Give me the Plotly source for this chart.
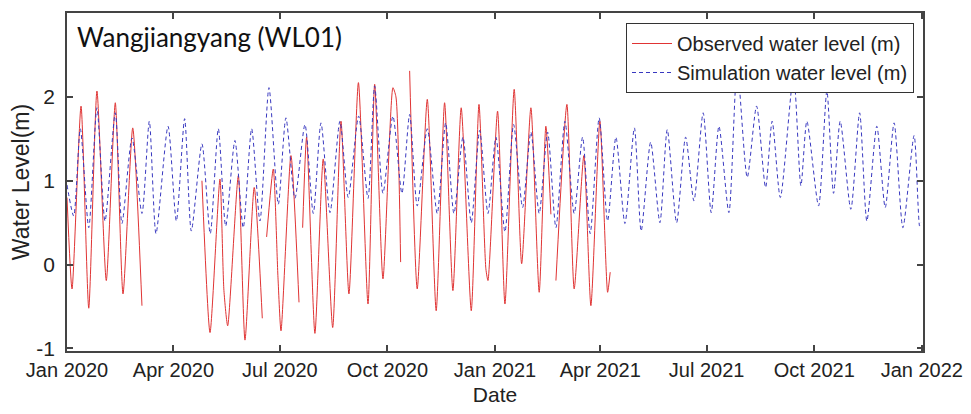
import pandas as pd
import plotly.graph_objects as go

# ---- data ----
# days after 2020-01-01, value (m)
sim_days = [0, 5.7, 11.4, 18.6, 25.6, 32.5, 41.3, 47.0, 55.6, 64.1, 70.4, 76.1, 86.4, 93.5,
            100.6, 106.3, 115.4, 122.5, 129.4, 135.7, 143.6, 150.7, 157.9, 165.0, 172.7,
            180.7, 187.2, 194.9, 203.5, 210.6, 217.2, 224.9, 233.4, 240.5, 249.4, 257.4,
            263.1, 270.2, 278.7, 286.4, 293.0, 299.5, 308.1, 316.6, 323.8, 330.9, 338.6,
            345.7, 352.9, 360.0, 366.8, 374.5, 381.9, 389.6, 396.7, 403.8, 411.0, 418.1,
            425.8, 433.7, 440.9, 447.4, 455.1, 462.3, 469.4, 477.1, 485.2, 491.0, 499.1,
            507.0, 513.3, 521.3, 529.0, 536.1, 544.0, 550.9, 557.5, 566.0, 573.1, 581.7,
            589.7, 597.4, 603.0, 610.0, 621.3, 627.6, 632.7, 642.7, 649.8, 655.5, 661.2,
            670.3, 677.8, 684.0, 692.5, 699.7, 707.3, 714.8, 724.4, 729.1, 730.2]
sim_vals = [0.95, 0.58, 1.62, 0.44, 1.87, 0.52, 1.81, 0.49, 1.51, 0.61, 1.71, 0.37, 1.65, 0.52,
            1.74, 0.40, 1.44, 0.37, 1.62, 0.46, 1.48, 0.44, 1.62, 0.52, 2.11,
            0.72, 1.75, 0.79, 1.67, 0.61, 1.69, 0.62, 1.71, 0.80, 1.77, 0.79,
            2.13, 0.85, 1.77, 0.85, 1.79, 0.70, 1.62, 0.61, 1.69, 0.61, 1.52,
            0.50, 1.60, 0.61, 1.52, 0.39, 1.67, 0.68, 1.58, 0.61, 1.58, 0.44,
            1.71, 0.61, 1.52, 0.37, 1.75, 0.52, 1.52, 0.49, 1.63, 0.40, 1.46,
            0.50, 1.61, 0.50, 1.52, 0.76, 1.81, 0.62, 1.65, 0.62, 2.35, 1.04,
            1.89, 0.92, 1.71, 0.80, 2.25, 0.94, 1.71, 0.70, 2.07, 0.85, 1.71,
            0.66, 1.81, 0.52, 1.65, 0.68, 1.69, 0.44, 1.54, 0.46, 0.50]

obs_days = [0, 4.3, 12.0, 18.6, 25.6, 33.6, 41.3, 47.9, 56.2, 64.1, None,
            115.4, 122.3, 130.8, 134.2, 137.4, 146.5, 152.2, 160.1, 167.0, None,
            170.7, 176.4, 180.4, 183.0, 191.5, 198.4, None,
            201.5, 204.9, 212.0, 219.1, 227.2, 234.3, 241.1, 249.2, 257.4, 263.1,
            270.2, 278.7, 281.3, 285.3, None,
            293.0, 299.5, 308.1, 315.7, 322.9, 330.0, 337.1, 345.7, 352.3, 358.2,
            360.0, 368.2, 374.5, 382.4, 388.8, 396.7, 403.8, 409.5, 413.8, None,
            418.1, 427.5, 433.7, 442.0, 448.0, 455.7, 462.3, 464.5]
obs_vals = [0.80, -0.29, 1.89, -0.52, 2.07, -0.19, 1.93, -0.35, 1.63, -0.49, None,
            1.00, -0.81, 1.02, -0.31, -0.73, 1.06, -0.90, 0.92, -0.64, None,
            0.33, 1.14, -0.15, -0.79, 1.30, -0.45, None,
            0.44, 1.52, -0.82, 1.26, -0.75, 1.71, -0.35, 2.17, -0.47, 2.15,
            -0.17, 2.11, 2.00, 0.03, None,
            2.31, -0.29, 1.97, -0.55, 1.93, -0.31, 1.87, -0.55, 1.91, -0.05,
            -0.19, 1.83, -0.47, 2.09, 0.01, 1.87, -0.33, 1.65, 0.60, None,
            -0.19, 1.91, -0.29, 1.30, -0.49, 1.71, -0.33, -0.09]

tick_dates = ["2020-01-01", "2020-04-01", "2020-07-01", "2020-10-01", "2021-01-01",
              "2021-04-01", "2021-07-01", "2021-10-01", "2022-01-01"]
tick_labels = ["Jan 2020", "Apr 2020", "Jul 2020", "Oct 2020", "Jan 2021",
               "Apr 2021", "Jul 2021", "Oct 2021", "Jan 2022"]
y_ticks = [-1, 0, 1, 2]
y_tick_labels = ["-1", "0", "1", "2"]

start = pd.Timestamp("2020-01-01")


def to_dates(days):
    return [None if d is None else start + pd.to_timedelta(d, unit="D") for d in days]


fig = go.Figure()
fig.add_trace(go.Scatter(
    x=to_dates(obs_days), y=obs_vals, mode="lines", name="Observed water level (m)",
    line=dict(color="#e03434", width=1, shape="spline", smoothing=0.6),
    connectgaps=False))
fig.add_trace(go.Scatter(
    x=to_dates(sim_days), y=sim_vals, mode="lines", name="Simulation water level (m)",
    line=dict(color="#3838c0", width=1, dash="4px,3px", shape="spline", smoothing=0.7)))

axis_col = "#444444"
font_main = "Liberation Sans, Arial, sans-serif"

fig.update_layout(
    width=971, height=414,
    margin=dict(l=67, r=48, t=13, b=63, autoexpand=False),
    paper_bgcolor="white", plot_bgcolor="white",
    font=dict(family=font_main, size=20, color="#222222"),
    showlegend=True,
    legend=dict(
        x=1 - 9 / 856, y=1 - 10 / 338, xanchor="right", yanchor="top",
        bgcolor="white", bordercolor="#333333", borderwidth=1,
        font=dict(family=font_main, size=20, color="#222222"),
        tracegroupgap=0, itemwidth=40,
    ),
    annotations=[dict(
        text="Wangjiangyang (WL01)", xref="paper", yref="paper",
        x=8 / 856, y=1 - 6 / 338, xanchor="left", yanchor="top",
        showarrow=False, font=dict(family="Lato, sans-serif", size=26, color="#111111"))],
)

fig.update_xaxes(
    range=["2020-01-01", "2022-01-02"],
    tickvals=tick_dates, ticktext=tick_labels,
    ticks="inside", ticklen=6, tickcolor=axis_col, tickwidth=1.5,
    showline=True, linecolor=axis_col, linewidth=1.5, mirror="ticks",
    showgrid=False, zeroline=False, automargin=False,
    tickfont=dict(size=20),
    title=dict(text="Date", font=dict(size=21), standoff=8),
)
fig.update_yaxes(
    range=[-1.03, 3.0],
    tickvals=y_ticks, ticktext=y_tick_labels,
    ticks="inside", ticklen=6, tickcolor=axis_col, tickwidth=1.5,
    showline=True, linecolor=axis_col, linewidth=1.5, mirror="ticks",
    showgrid=False, zeroline=False, automargin=False,
    tickfont=dict(size=21), ticklabelstandoff=6,
    title=dict(text="Water Level(m)", font=dict(size=23), standoff=0),
)

fig.write_html("out.html")
